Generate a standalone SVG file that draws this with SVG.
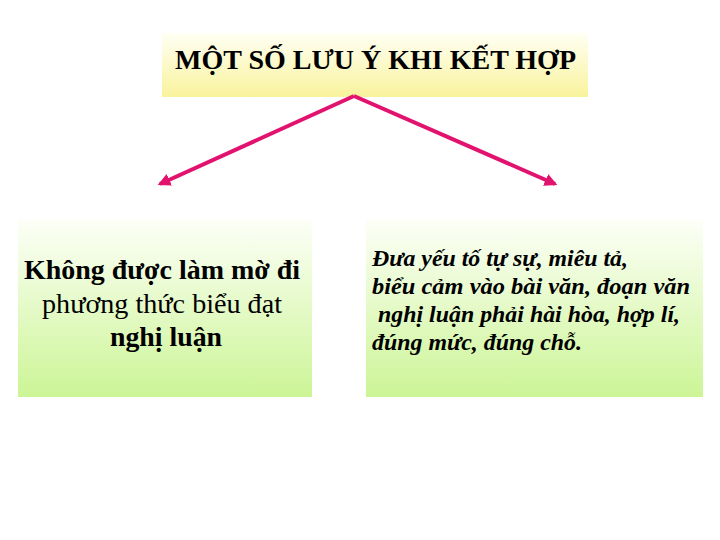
<svg xmlns="http://www.w3.org/2000/svg" width="720" height="540" viewBox="0 0 720 540">
<defs>
<linearGradient id="gy" x1="0" y1="0" x2="0" y2="1">
<stop offset="0" stop-color="#fffff4"/>
<stop offset="1" stop-color="#f9f39c"/>
</linearGradient>
<linearGradient id="gg" x1="0" y1="0" x2="0" y2="1">
<stop offset="0" stop-color="#fdfff8"/>
<stop offset="1" stop-color="#ccf596"/>
</linearGradient>
<marker id="ah" viewBox="0 0 10 10" refX="8" refY="5" markerWidth="3.2" markerHeight="3.2" orient="auto" markerUnits="strokeWidth">
<path d="M0,0 L10,5 L0,10 Z" fill="#e2136e"/>
</marker>
<style>
.t{font-family:"Liberation Serif","Times New Roman",serif;fill:#000}
.b{font-weight:bold}
.ln{stroke:#e2136e;stroke-width:4;fill:none;marker-end:url(#ah)}
</style>
</defs>
<rect width="720" height="540" fill="#fff"/>
<g id="title">
<rect x="162" y="33" width="426" height="64" fill="url(#gy)"/>
<text class="t b" x="175" y="69" font-size="27" textLength="401" lengthAdjust="spacingAndGlyphs">MỘT SỐ LƯU Ý KHI KẾT HỢP</text>
</g>
<g id="left">
<rect x="18" y="219" width="294" height="178" fill="url(#gg)"/>
<text class="t b" x="24" y="279" font-size="27" textLength="276" lengthAdjust="spacingAndGlyphs">Không được làm mờ đi</text>
<text class="t" x="42" y="313" font-size="28" textLength="240" lengthAdjust="spacingAndGlyphs">phương thức biểu đạt</text>
<text class="t b" x="110" y="346" font-size="27" textLength="112" lengthAdjust="spacingAndGlyphs">nghị luận</text>
</g>
<g id="right">
<rect x="366" y="219" width="337" height="178" fill="url(#gg)"/>
<g class="t b" font-style="italic" font-size="24">
<text x="372" y="266" textLength="256" lengthAdjust="spacingAndGlyphs">Đưa yếu tố tự sự, miêu tả,</text>
<text x="372" y="294" textLength="318" lengthAdjust="spacingAndGlyphs">biểu cảm  vào bài văn, đoạn văn</text>
<text x="378" y="322" textLength="302" lengthAdjust="spacingAndGlyphs">nghị luận phải hài hòa, hợp lí,</text>
<text x="372" y="350" textLength="210" lengthAdjust="spacingAndGlyphs">đúng mức, đúng chỗ.</text>
</g>
</g>
<g id="connectors">
<line class="ln" x1="354" y1="96" x2="160" y2="184"/>
<line class="ln" x1="354" y1="96" x2="555" y2="184"/>
</g>
</svg>
